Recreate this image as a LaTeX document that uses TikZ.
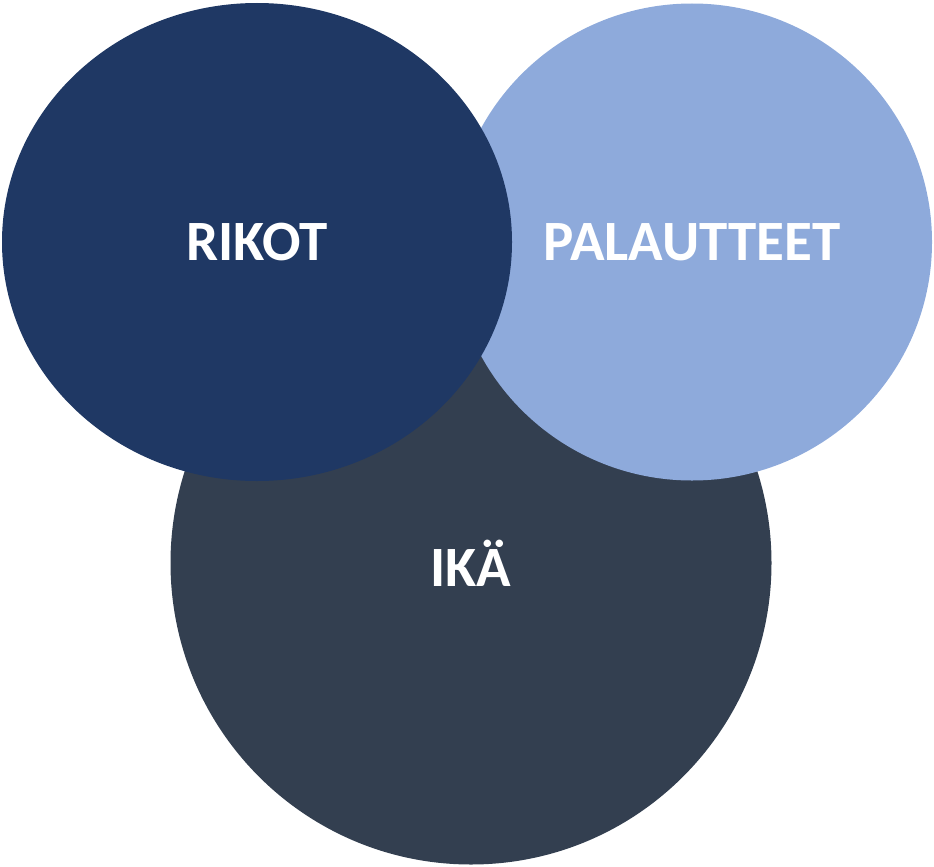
\documentclass[tikz,border=0pt]{standalone}
\usepackage{fontspec}
\setmainfont{Carlito}
\usepackage{xcolor}
\usetikzlibrary{shapes,positioning}
\definecolor{rikotblue}{HTML}{1F3864}
\definecolor{palautelight}{HTML}{8EAADB}
\definecolor{ikaslate}{HTML}{333F50}

\begin{document}
\begin{tikzpicture}[x=1pt, y=-1pt]
  \tikzstyle{bubble}=[ellipse, inner sep=0pt, text=white, font=\fontsize{57}{68}\selectfont\bfseries]
  \useasboundingbox (0,0) rectangle (934,867);

  % IKÄ (alin)
  \node[bubble, fill=ikaslate, minimum width=601pt, minimum height=603pt] (ika) at (471,563) {IKÄ};

  % Palautteet
  \node[bubble, fill=palautelight, minimum width=480pt, minimum height=477pt] (palautteet) at (692,242) {PALAUTTEET};

  % Rikot (päällimmäinen)
  \node[bubble, fill=rikotblue, minimum width=510pt, minimum height=478pt] (rikot) at (257,242) {RIKOT};
\end{tikzpicture}
\end{document}
